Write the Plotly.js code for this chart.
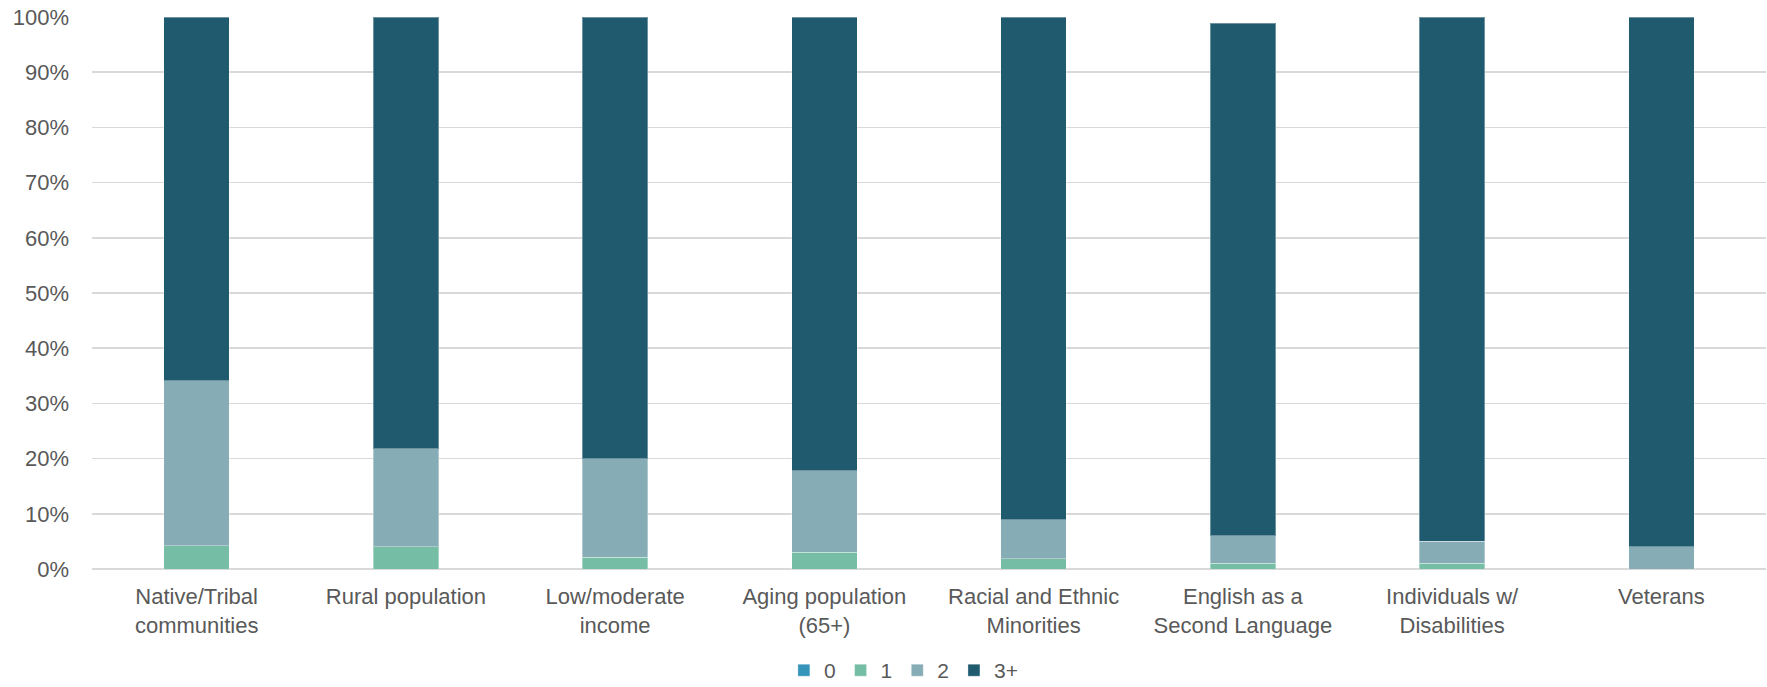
<!DOCTYPE html>
<html>
<head>
<meta charset="utf-8">
<script src="https://cdn.plot.ly/plotly-3.0.1.min.js"></script>
<style>html,body{margin:0;padding:0;background:#fff;}#chart{width:1767px;height:687px;}</style>
</head>
<body>
<div id="chart"></div>
<script>
const categories = ["Native/Tribal<br>communities", "Rural population", "Low/moderate<br>income", "Aging population<br>(65+)", "Racial and Ethnic<br>Minorities", "English as a<br>Second Language", "Individuals w/<br>Disabilities", "Veterans"];
const seriesNames = ["0", "1", "2", "3+"];
const s0 = [0, 0, 0, 0, 0, 0, 0, 0];
const s1 = [4.2, 4.0, 2.1, 3.0, 1.9, 1.0, 1.0, 0];
const s2 = [29.9, 17.8, 17.9, 14.8, 7.0, 5.0, 4.0, 4.0];
const s3 = [65.9, 78.2, 80.0, 82.2, 91.1, 92.9, 95.0, 96.0];
const yTickVals = [0, 10, 20, 30, 40, 50, 60, 70, 80, 90, 100];
const yTickText = ["0%", "10%", "20%", "30%", "40%", "50%", "60%", "70%", "80%", "90%", "100%"];

const colors = ["#3494BA", "#76BDA6", "#86ACB6", "#1F5A6E"];
const allSeries = [s0, s1, s2, s3];

const traces = allSeries.map((vals, i) => ({
  type: "bar",
  name: seriesNames[i],
  x: categories,
  y: vals,
  marker: { color: colors[i], line: { color: "rgba(255,255,255,0.35)", width: 1 } },
  hoverinfo: "x+y+name"
}));

const layout = {
  width: 1767,
  height: 687,
  barmode: "stack",
  bargap: 0.686,
  margin: { l: 92, r: 1, t: 17, b: 118, autoexpand: false },
  paper_bgcolor: "#ffffff",
  plot_bgcolor: "#ffffff",
  font: { family: "Liberation Sans, Arial, sans-serif", size: 22, color: "#595959" },
  showlegend: true,
  legend: {
    orientation: "h",
    x: 0.485, xanchor: "center",
    y: -0.184, yanchor: "middle",
    font: { size: 21, color: "#595959" },
    itemwidth: 30,
    tracegroupgap: 0,
    traceorder: "normal"
  },
  xaxis: {
    type: "category",
    showgrid: false,
    showline: false,
    ticks: "",
    ticklabelstandoff: 12,
    tickfont: { size: 22, color: "#595959" },
    automargin: false
  },
  yaxis: {
    range: [0, 100],
    tickvals: yTickVals,
    ticktext: yTickText,
    showgrid: true,
    gridcolor: "#D9D9D9",
    gridwidth: 1.5,
    zeroline: true,
    zerolinecolor: "#D9D9D9",
    zerolinewidth: 1.5,
    showline: false,
    ticks: "",
    ticklen: 0,
    ticklabelstandoff: 22,
    tickfont: { size: 22, color: "#595959" },
    automargin: false
  }
};

Plotly.newPlot("chart", traces, layout, { displayModeBar: false, staticPlot: true });
</script>
</body>
</html>
